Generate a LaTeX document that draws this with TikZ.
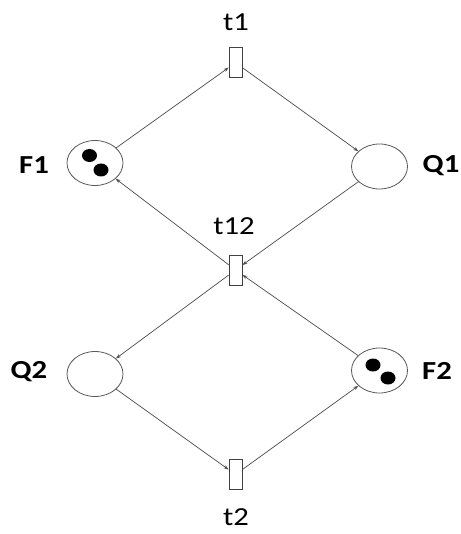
\documentclass[tikz,border=0pt]{standalone}
\usepackage{fontspec}
\setmainfont{Carlito}
\usetikzlibrary{shapes.geometric,arrows.meta}
\begin{document}
\begin{tikzpicture}[x=1pt,y=-1pt,
  place/.style={draw=black!65,line width=0.8pt,ellipse,minimum width=56pt,minimum height=45pt,inner sep=0pt},
  trans/.style={draw=black!75,line width=0.8pt,rectangle,minimum width=13pt,minimum height=30pt,inner sep=0pt},
  token/.style={fill=black,ellipse,minimum width=15pt,minimum height=13pt,inner sep=0pt},
  arc/.style={draw=black!70,line width=0.7pt,-{Stealth[length=5pt,width=3.5pt]}},
  tlabel/.style={font=\fontsize{26}{26}\selectfont,inner sep=0pt},
  plabel/.style={font=\fontsize{26}{26}\selectfont\bfseries,inner sep=0pt}]
\useasboundingbox (0,0) rectangle (460,534);
\fill[white] (0,0) rectangle (460,534);

% places
\node[place] (F1) at (95,163) {};
\node[place] (Q1) at (379.5,166.5) {};
\node[place] (Q2) at (95,374) {};
\node[place] (F2) at (379.5,370.5) {};

% tokens
\node[token] (f1a) at (89.5,155.5) {};
\node[token] (f1b) at (101,170) {};
\node[token] (f2a) at (373,365) {};
\node[token] (f2b) at (388,378) {};

% transitions
\node[trans] (t1) at (235.5,62.7) {};
\node[trans] (t12) at (235.5,270) {};
\node[trans] (t2) at (235.5,474.5) {};

% labels
\node[tlabel] (lt1) at (236,22) {\scalebox{1.18}[1]{t1}};
\node[tlabel] (lt12) at (234,226) {\scalebox{1.18}[1]{t12}};
\node[tlabel] (lt2) at (236,517) {\scalebox{1.18}[1]{t2}};
\node[plabel] (lF1) at (34,165) {\scalebox{1.18}[1]{F1}};
\node[plabel] (lQ1) at (441,166) {\scalebox{1.18}[1]{Q1}};
\node[plabel] (lQ2) at (29,372) {\scalebox{1.18}[1]{Q2}};
\node[plabel] (lF2) at (437,371) {\scalebox{1.18}[1]{F2}};

% arcs
\draw[arc] (F1) -- (t1);
\draw[arc] (t1) -- (Q1);
\draw[arc] (Q1) -- (t12);
\draw[arc] (t12) -- (F1);
\draw[arc] (t12) -- (Q2);
\draw[arc] (F2) -- (t12);
\draw[arc] (Q2) -- (t2);
\draw[arc] (t2) -- (F2);
\end{tikzpicture}
\end{document}
